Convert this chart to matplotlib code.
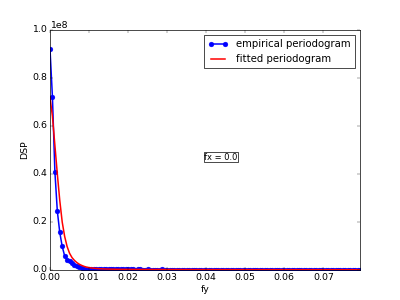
"""Empirical vs fitted periodogram along fy for fx = 0."""

import numpy as np
import matplotlib
matplotlib.use('Agg')
import matplotlib.pyplot as plt

FY_STEP = 0.000625
SCALE = 1e6

# periodogram values, in units of 1e6
EMPIRICAL = [
    92, 72, 41, 24.5, 15.7, 9.8, 5.9, 4.3, 3.7, 3.0, 2.2, 1.6, 1.1, 0.8, 0.6, 0.5,
    0.45, 0.4, 0.38, 0.35, 0.33, 0.3, 0.31, 0.28, 0.27, 0.29, 0.26, 0.25, 0.24, 0.26, 0.23, 0.22,
    0.23, 0.21, 0.22, 0.2, 0.21, 0.22, 0.19, 0.2, 0.21, 0.19, 0.2, 0.18, 0.2, 0.19, 0.21, 0.18,
    0.19, 0.2, 0.18, 0.19, 0.17, 0.19, 0.18, 0.2, 0.17, 0.18, 0.19, 0.17, 0.18, 0.16, 0.18, 0.17,
    0.19, 0.17, 0.16, 0.18, 0.17, 0.16, 0.18, 0.17, 0.16, 0.17, 0.15, 0.17, 0.16, 0.18, 0.15, 0.16,
    0.17, 0.15, 0.16, 0.17, 0.15, 0.16, 0.14, 0.16, 0.15, 0.17, 0.15, 0.14, 0.16, 0.15, 0.14, 0.16,
    0.15, 0.14, 0.15, 0.16, 0.14, 0.15, 0.13, 0.15, 0.14, 0.16, 0.14, 0.13, 0.15, 0.14, 0.13, 0.15,
    0.14, 0.13, 0.14, 0.15, 0.13, 0.14, 0.12, 0.14, 0.13, 0.14, 0.12, 0.13, 0.14, 0.12, 0.13, 0.12,
]
FITTED = [
    72, 64, 52, 40, 29, 20, 14, 9.8, 7.0, 5.2, 4.0, 3.1, 2.4, 1.9, 1.5, 1.2,
    1.0, 0.85, 0.72, 0.62, 0.55, 0.49, 0.44, 0.4, 0.37, 0.34, 0.32, 0.3, 0.29, 0.28, 0.27, 0.26,
    0.25, 0.24, 0.24, 0.23, 0.23, 0.22, 0.22, 0.21, 0.21, 0.21, 0.2, 0.2, 0.2, 0.2, 0.19, 0.19,
    0.19, 0.19, 0.19, 0.18, 0.18, 0.18, 0.18, 0.18, 0.18, 0.17, 0.17, 0.17, 0.17, 0.17, 0.17, 0.17,
    0.16, 0.16, 0.16, 0.16, 0.16, 0.16, 0.16, 0.16, 0.15, 0.15, 0.15, 0.15, 0.15, 0.15, 0.15, 0.15,
    0.15, 0.15, 0.14, 0.14, 0.14, 0.14, 0.14, 0.14, 0.14, 0.14, 0.14, 0.14, 0.14, 0.14, 0.13, 0.13,
    0.13, 0.13, 0.13, 0.13, 0.13, 0.13, 0.13, 0.13, 0.13, 0.13, 0.13, 0.13, 0.12, 0.12, 0.12, 0.12,
    0.12, 0.12, 0.12, 0.12, 0.12, 0.12, 0.12, 0.12, 0.12, 0.12, 0.12, 0.12, 0.12, 0.11, 0.11, 0.11,
]

FX_LABEL = 'fx = 0.0'


def main() -> None:
    plt.style.use('classic')
    plt.rcParams['font.size'] = 13.5
    fy = np.arange(len(EMPIRICAL)) * FY_STEP
    emp = np.array(EMPIRICAL) * SCALE
    fit = np.array(FITTED) * SCALE

    fig, axes = plt.subplots(figsize=(8, 6), dpi=50)
    axes.plot(fy, emp, 'bo-', lw=2.2, ms=7, mec='b', label='empirical periodogram')
    axes.plot(fy, fit, 'r-', lw=2.2, label='fitted periodogram')

    axes.set_xlim(0, fy[-1])
    axes.set_ylim(0, 1e8)
    axes.set_xlabel('fy')
    axes.set_ylabel('DSP')
    axes.text(0.497, 0.47, FX_LABEL, transform=axes.transAxes, fontsize=12,
              va='center', bbox=dict(facecolor='white', edgecolor='black', pad=0.5))
    axes.legend(loc='upper right', numpoints=2, fontsize=14.5)

    fig.savefig('out.png', dpi=50)


main()
